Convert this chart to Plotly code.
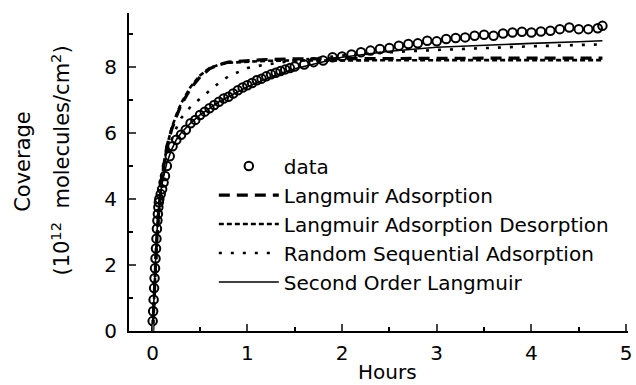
import plotly.graph_objects as go

# ---- data ----
t_data = [0.0, 0.005, 0.01, 0.015, 0.02, 0.025, 0.03, 0.035, 0.04, 0.045, 0.05, 0.055,
          0.06, 0.065, 0.07, 0.085, 0.10, 0.115, 0.13, 0.15, 0.18, 0.21, 0.25, 0.30,
          0.35, 0.40, 0.45, 0.50, 0.55, 0.60, 0.65, 0.70, 0.75, 0.80, 0.85, 0.90, 0.95,
          1.00, 1.05, 1.10, 1.15, 1.20, 1.25, 1.30, 1.35, 1.40, 1.45, 1.50, 1.60, 1.70,
          1.80, 1.90, 2.00, 2.10, 2.20, 2.30, 2.40, 2.50, 2.60, 2.70, 2.80, 2.90, 3.00,
          3.10, 3.20, 3.30, 3.40, 3.50, 3.60, 3.70, 3.80, 3.90, 4.00, 4.10, 4.20, 4.30,
          4.40, 4.50, 4.60, 4.70, 4.75]
y_data = [0.3, 0.6, 0.95, 1.3, 1.6, 1.9, 2.2, 2.5, 2.8, 3.1, 3.35, 3.55,
          3.75, 3.9, 4.0, 4.15, 4.3, 4.5, 4.7, 5.0, 5.3, 5.6, 5.8, 5.95,
          6.1, 6.3, 6.4, 6.55, 6.65, 6.75, 6.85, 6.95, 7.05, 7.1, 7.2, 7.3, 7.38,
          7.45, 7.52, 7.6, 7.65, 7.72, 7.78, 7.83, 7.88, 7.93, 7.97, 8.02, 8.08, 8.15,
          8.2, 8.3, 8.32, 8.38, 8.45, 8.5, 8.55, 8.58, 8.65, 8.7, 8.72, 8.8, 8.78,
          8.85, 8.88, 8.9, 8.95, 8.98, 8.95, 9.02, 9.05, 9.07, 9.05, 9.08, 9.1, 9.15,
          9.2, 9.15, 9.15, 9.18, 9.25]

t_model = [0, 0.02, 0.04, 0.06, 0.08, 0.10, 0.15, 0.20, 0.25, 0.30, 0.40, 0.50, 0.60,
           0.70, 0.80, 1.0, 1.2, 1.5, 2.0, 2.5, 3.0, 3.5, 4.0, 4.5, 4.75]
langmuir_ads = [0, 1.4, 2.6, 3.5, 4.2, 4.7, 5.6, 6.1, 6.5, 6.85, 7.35, 7.7, 7.95,
                8.08, 8.15, 8.2, 8.23, 8.25, 8.26, 8.27, 8.27, 8.27, 8.27, 8.27, 8.27]
langmuir_ads_des = [0, 1.4, 2.6, 3.5, 4.2, 4.7, 5.6, 6.15, 6.55, 6.9, 7.4, 7.75, 7.97,
                    8.07, 8.13, 8.17, 8.19, 8.2, 8.21, 8.21, 8.21, 8.21, 8.21, 8.21, 8.21]
rsa = [0, 1.3, 2.4, 3.3, 4.0, 4.5, 5.3, 5.8, 6.15, 6.45, 6.8, 7.05, 7.3,
       7.52, 7.72, 7.97, 8.08, 8.2, 8.35, 8.45, 8.52, 8.58, 8.63, 8.67, 8.69]
second_order = [0, 1.5, 2.8, 3.6, 4.1, 4.5, 5.1, 5.5, 5.8, 6.0, 6.3, 6.55, 6.75,
                6.95, 7.1, 7.4, 7.65, 7.95, 8.3, 8.48, 8.6, 8.67, 8.72, 8.77, 8.8]

x_ticks = [0, 1, 2, 3, 4, 5]
y_ticks = [0, 2, 4, 6, 8]

FONT = "DejaVu Sans"
fig = go.Figure()

fig.add_trace(go.Scatter(x=t_model, y=langmuir_ads, mode="lines", name="Langmuir Adsorption",
                         line=dict(color="black", width=3.2, dash="11px,7px"), legendrank=2))
fig.add_trace(go.Scatter(x=t_model, y=langmuir_ads_des, mode="lines",
                         name="Langmuir Adsorption Desorption",
                         line=dict(color="black", width=2.6, dash="5px,3px"), legendrank=3))
fig.add_trace(go.Scatter(x=t_model, y=rsa, mode="lines", name="Random Sequential Adsorption",
                         line=dict(color="black", width=2.6, dash="3px,9px"), legendrank=4))
fig.add_trace(go.Scatter(x=t_model, y=second_order, mode="lines", name="Second Order Langmuir",
                         line=dict(color="black", width=1.6), legendrank=5))
fig.add_trace(go.Scatter(x=t_data, y=y_data, mode="markers", name="data",
                         marker=dict(symbol="circle-open", size=8.5, color="black",
                                     line=dict(width=2)), legendrank=1))

fig.update_layout(
    width=636, height=385,
    margin=dict(l=129, r=4, t=13, b=54),
    paper_bgcolor="white", plot_bgcolor="white",
    font=dict(family=FONT, size=20, color="black"),
    showlegend=True,
    legend=dict(x=0.170, y=0.580, xanchor="left", yanchor="top",
                bgcolor="rgba(0,0,0,0)", font=dict(size=20, family=FONT),
                tracegroupgap=8, itemwidth=60, traceorder="normal"),
    xaxis=dict(range=[-0.25, 5.02], tickvals=x_ticks, ticks="inside", ticklen=7, tickwidth=2,
               showline=True, linewidth=2, linecolor="black", showgrid=False, zeroline=False,
               tickfont=dict(size=20, family=FONT), ticklabeloverflow="allow",
               minor=dict(dtick=0.5, ticks="inside", ticklen=4, tickwidth=2, tickcolor="black"),
               ticklabelstandoff=3),
    yaxis=dict(range=[0, 9.64], tickvals=y_ticks, ticks="inside", ticklen=7, tickwidth=2,
               showline=True, linewidth=2, linecolor="black", showgrid=False, zeroline=False,
               tickfont=dict(size=20, family=FONT),
               minor=dict(dtick=1, ticks="inside", ticklen=4, tickwidth=2, tickcolor="black"),
               ticklabelstandoff=6),
)

fig.add_annotation(text="Coverage", xref="paper", yref="paper",
                   x=(22 - 129) / 503, y=(331 - 161) / 318, textangle=-90,
                   showarrow=False, font=dict(size=21, family=FONT),
                   xanchor="center", yanchor="middle")
fig.add_annotation(text="(10<sup>12</sup>  molecules/cm<sup>2</sup>)", xref="paper", yref="paper",
                   x=(60 - 129) / 503, y=(331 - 161) / 318, textangle=-90,
                   showarrow=False, font=dict(size=21, family=FONT),
                   xanchor="center", yanchor="middle")
fig.add_annotation(text="Hours", xref="paper", yref="paper",
                   x=(390 - 129) / 503, y=-(372 - 331) / 318,
                   showarrow=False, font=dict(size=20, family=FONT),
                   xanchor="center", yanchor="middle")

fig.write_html("out.html")
